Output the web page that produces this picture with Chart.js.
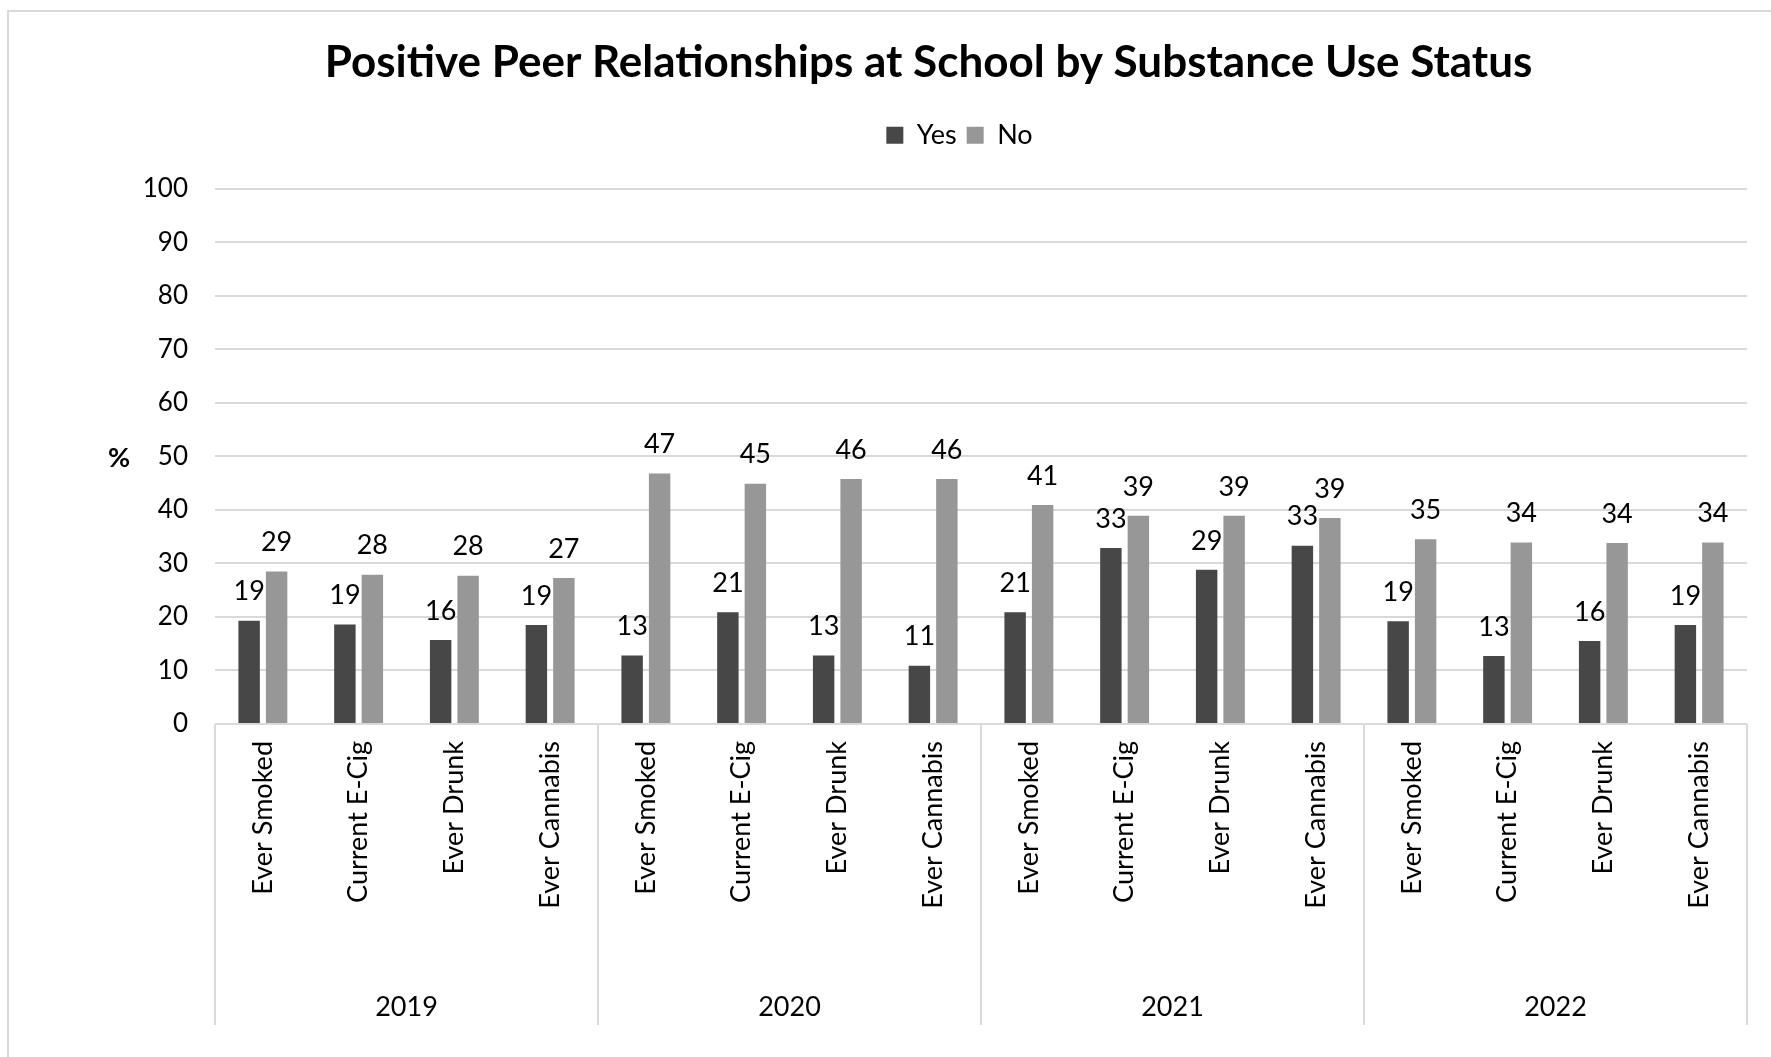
<!DOCTYPE html>
<html>
<head>
<meta charset="utf-8">
<title>Positive Peer Relationships at School by Substance Use Status</title>
<script src="https://cdn.jsdelivr.net/npm/chart.js@4/dist/chart.umd.min.js"></script>
<style>
  html, body { margin: 0; padding: 0; background: #fff; }
  #wrap { width: 1771px; height: 1057px; }
</style>
</head>
<body>
<div id="wrap"><canvas id="chart" width="1771" height="1057"></canvas></div>
<script>
const years = ['2019', '2020', '2021', '2022'];
const substances = ['Ever Smoked', 'Current E-Cig', 'Ever Drunk', 'Ever Cannabis'];

// values per year, in the order of substances
const yes2019 = [19.3, 18.6, 15.7, 18.5];
const no2019 = [28.5, 27.9, 27.7, 27.3];
const yes2020 = [12.8, 20.9, 12.8, 10.9];
const no2020 = [46.8, 44.9, 45.8, 45.8];
const yes2021 = [20.9, 32.9, 28.8, 33.3];
const no2021 = [40.9, 38.9, 38.9, 38.5];
const yes2022 = [19.2, 12.7, 15.5, 18.5];
const no2022 = [34.5, 33.9, 33.8, 33.9];

const yTickMax = 100;
const yTickStep = 10;

const FONT = 'Lato';
const GRID = '#d9d9d9';

const labels = [];
years.forEach(() => substances.forEach(s => labels.push(s)));
const yesValues = [].concat(yes2019, yes2020, yes2021, yes2022);
const noValues = [].concat(no2019, no2020, no2021, no2022);

// white background + outer frame
const frame = {
    id: 'frame',
    beforeDraw(chart) {
        const ctx = chart.ctx;
        ctx.save();
        ctx.fillStyle = '#fff';
        ctx.fillRect(0, 0, chart.width, chart.height);
        ctx.strokeStyle = GRID;
        ctx.lineWidth = 2;
        ctx.strokeRect(8, 11, chart.width + 20, chart.height + 20);
        ctx.restore();
    }
};

// legend sits a bit higher and right of the title centre in the original
const legendPlace = {
    id: 'legendPlace',
    afterLayout(chart) {
        const lg = chart.legend;
        lg.top -= 30; lg.bottom -= 30;
        lg.left += 31; lg.right += 31;
    }
};

const valueLabels = {
    id: 'valueLabels',
    afterDatasetsDraw(chart) {
        const ctx = chart.ctx;
        ctx.save();
        ctx.font = '27px ' + FONT;
        ctx.fillStyle = '#000';
        ctx.textAlign = 'center';
        ctx.textBaseline = 'middle';
        chart.data.datasets.forEach((ds, i) => {
            chart.getDatasetMeta(i).data.forEach((bar, j) => {
                ctx.fillText(Math.round(ds.data[j]), bar.x, bar.y - 29);
            });
        });
        ctx.restore();
    }
};

// year group row under the category labels, plus the "%" axis label
const yearGroups = {
    id: 'yearGroups',
    afterDraw(chart) {
        const x = chart.scales.x;
        const y = chart.scales.y;
        const ctx = chart.ctx;
        const step = x.getPixelForValue(1) - x.getPixelForValue(0);
        const n = substances.length;
        ctx.save();
        ctx.strokeStyle = GRID;
        ctx.lineWidth = 2;
        for (let k = 0; k <= years.length; k++) {
            const px = Math.round(x.getPixelForValue(k * n) - step / 2);
            ctx.beginPath();
            ctx.moveTo(px, x.top);
            ctx.lineTo(px, x.bottom);
            ctx.stroke();
        }
        ctx.fillStyle = '#000';
        ctx.font = '27px ' + FONT;
        ctx.textAlign = 'center';
        ctx.textBaseline = 'middle';
        years.forEach((yr, k) => {
            const cx = (x.getPixelForValue(k * n) + x.getPixelForValue(k * n + n - 1)) / 2;
            ctx.fillText(yr, cx, x.bottom - 18);
        });
        ctx.font = 'bold 27px ' + FONT;
        ctx.fillText('%', 119, y.getPixelForValue(50) + 2);
        ctx.restore();
    }
};

function init() {
    new Chart(document.getElementById('chart'), {
        type: 'bar',
        data: {
            labels: labels,
            datasets: [{
                label: 'Yes',
                data: yesValues,
                backgroundColor: '#474747',
                categoryPercentage: 0.574,
                barPercentage: 0.78
            }, {
                label: 'No',
                data: noValues,
                backgroundColor: '#979797',
                categoryPercentage: 0.574,
                barPercentage: 0.78
            }]
        },
        options: {
            responsive: false,
            animation: false,
            devicePixelRatio: 1,
            layout: {
                padding: { left: 110, right: 24, top: 0, bottom: 32 }
            },
            plugins: {
                title: {
                    display: true,
                    text: 'Positive Peer Relationships at School by Substance Use Status',
                    color: '#000',
                    font: { family: FONT, size: 44, weight: 'bold' },
                    padding: { top: 36, bottom: 53 }
                },
                legend: {
                    display: true,
                    labels: {
                        color: '#000',
                        font: { family: FONT, size: 27 },
                        boxWidth: 17,
                        boxHeight: 17,
                        padding: 10
                    }
                },
                tooltip: { enabled: false }
            },
            scales: {
                x: {
                    grid: { display: false, drawTicks: false },
                    border: { display: false },
                    ticks: {
                        autoSkip: false,
                        maxRotation: 90,
                        minRotation: 90,
                        padding: 17,
                        color: '#000',
                        font: { family: FONT, size: 27 }
                    },
                    afterFit(scale) { scale.height = 301; }
                },
                y: {
                    min: 0,
                    max: yTickMax,
                    grid: { color: GRID, lineWidth: 2, drawTicks: false },
                    border: { display: false },
                    ticks: {
                        stepSize: yTickStep,
                        padding: 27,
                        color: '#000',
                        font: { family: FONT, size: 26 }
                    },
                    afterFit(scale) { scale.width = 105; }
                }
            }
        },
        plugins: [frame, legendPlace, valueLabels, yearGroups]
    });
}

document.fonts.load('27px ' + FONT).then(() => document.fonts.load('bold 44px ' + FONT)).then(init, init);
</script>
</body>
</html>
